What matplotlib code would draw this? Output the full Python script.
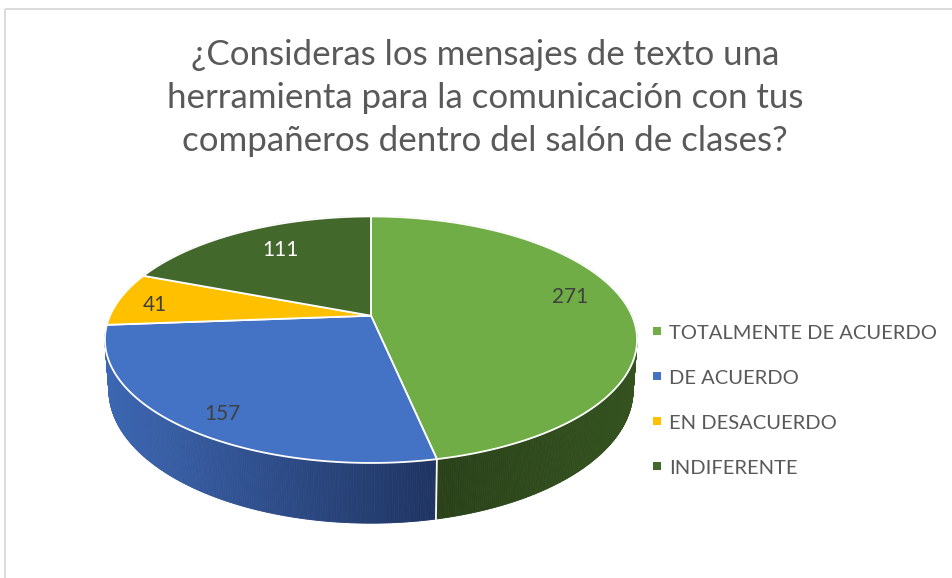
import numpy as np
import matplotlib
matplotlib.use("Agg")
import matplotlib.pyplot as plt
from matplotlib.patches import Polygon, Rectangle
from matplotlib.collections import PolyCollection
from matplotlib.colors import to_rgb

# ---- data -------------------------------------------------------------
title_lines = [
    "¿Consideras los mensajes de texto una",
    "herramienta para la comunicación con tus",
    "compañeros dentro del salón de clases?",
]
categories = ["TOTALMENTE DE ACUERDO", "DE ACUERDO", "EN DESACUERDO", "INDIFERENTE"]
values = [271, 157, 41, 111]

# ---- style ------------------------------------------------------------
top_colors = ["#70AD47", "#4472C4", "#FFC000", "#43682B"]
# wall shading: (left colour, right colour) across each slice's visible wall
wall_colors = [("#2A4119", "#34531F"), ("#3D67B3", "#1F3461"),
               ("#B88A00", "#8A6800"), ("#2E481E", "#243A17")]
label_colors = ["#404040", "#404040", "#404040", "#FFFFFF"]
label_radius = [0.78, 0.825, 0.856, 0.677]
label_nudge = [-9.5, 9.0, 3.5, -5.5]
FONT = "Lato"

W, H = 953, 578
fig = plt.figure(figsize=(W / 100, H / 100), dpi=100)
ax = fig.add_axes([0, 0, 1, 1])
ax.set_xlim(0, W)
ax.set_ylim(H, 0)
ax.axis("off")
renderer = fig.canvas.get_renderer()

# chart frame
ax.plot([5, W], [9, 9], color="#D9D9D9", lw=1.3, solid_capstyle="butt")
ax.plot([5, 5], [9, H], color="#D9D9D9", lw=1.3, solid_capstyle="butt")

# ---- 3D pie projection (pixel space) ----------------------------------
CX, CY = 371.0, 315.7   # projected pie centre
A, B = 261.0, 118.6     # horizontal / depth radii
K = 0.1946              # perspective strength
DEPTH = 48.5            # wall thickness
SHRINK = 0.985          # bottom face slightly smaller (farther away)


def top(theta, r=1.0):
    u, w = r * np.sin(theta), r * np.cos(theta)
    d = 1 + K * w
    return CX + A * u / d, CY - B * w / d


def bottom(theta):
    u, w = np.sin(theta), np.cos(theta)
    d = 1 + K * w
    return CX + SHRINK * A * u / d, CY - B * w / d + DEPTH / d


def mix(c0, c1, t):
    a, b = np.array(to_rgb(c0)), np.array(to_rgb(c1))
    return tuple(a + (b - a) * t)


total = sum(values)
edges = np.concatenate([[0], np.cumsum(values)]) / total * 2 * np.pi

# side walls, far quads first
quads, qcols, qdepth = [], [], []
for i in range(len(values)):
    t0, t1 = edges[i], edges[i + 1]
    n = max(int((t1 - t0) / (2 * np.pi) * 900), 4)
    ts = np.linspace(t0, t1, n + 1)
    vis = ts[np.cos(ts) < -K]
    if len(vis) > 1:
        s_vals = [(top(t)[0] - CX) / A for t in vis]
        s_lo, s_hi = min(s_vals), max(s_vals)
    else:
        s_lo, s_hi = -1.0, 1.0
    for a0, a1 in zip(ts[:-1], ts[1:]):
        p = [top(a0), top(a1), bottom(a1), bottom(a0)]
        s = (top(0.5 * (a0 + a1))[0] - CX) / A
        f = np.clip((s - s_lo) / (s_hi - s_lo + 1e-9), 0, 1)
        c0, c1 = wall_colors[i]
        col = mix(c0, c1, f)
        quads.append(p)
        qcols.append(col)
        qdepth.append(np.cos(0.5 * (a0 + a1)))

order = np.argsort(qdepth)[::-1]
pc = PolyCollection([quads[j] for j in order], facecolors=[qcols[j] for j in order],
                    edgecolors=[qcols[j] for j in order], linewidths=0.6)
ax.add_collection(pc)

# white seams where visible slices meet on the wall
for t in edges[1:-1]:
    if np.cos(t) < -K:
        x0, y0 = top(t)
        x1, y1 = bottom(t)
        ax.plot([x0, x1], [y0, y1], color="white", lw=1.3, zorder=3)

# top face
for i in range(len(values)):
    ts = np.linspace(edges[i], edges[i + 1], 200)
    pts = [(CX, CY)] + [top(t) for t in ts]
    ax.add_patch(Polygon(pts, closed=True, facecolor=top_colors[i],
                         edgecolor="white", lw=1.3, joinstyle="round", zorder=4))


def fit(txt, target):
    bb = txt.get_window_extent(renderer)
    txt.set_fontsize(txt.get_fontsize() * target / bb.width)


# data labels
for i, v in enumerate(values):
    mid = 0.5 * (edges[i] + edges[i + 1])
    x, y = top(mid, label_radius[i])
    t = ax.text(x, y + label_nudge[i], str(v), ha="center", va="center",
                color=label_colors[i], family=FONT, fontsize=14, zorder=6)
    if i == 0:
        fit(t, 36)
        lsize = t.get_fontsize()
    else:
        t.set_fontsize(lsize)

# title
baselines = [65, 108, 151]
tt = []
for line, yb in zip(title_lines, baselines):
    tt.append(ax.text(485, yb, line, ha="center", va="baseline",
                      color="#595959", family=FONT, fontsize=22))
fit(tt[1], 634)
for t in tt:
    t.set_fontsize(tt[1].get_fontsize())

# legend
leg_base = [339, 384, 429, 474]
lt = []
for cat, col, yb in zip(categories, top_colors, leg_base):
    ax.add_patch(Rectangle((653, yb - 12), 8, 8, facecolor=col, edgecolor="none"))
    lt.append(ax.text(669, yb, cat, ha="left", va="baseline",
                      color="#595959", family=FONT, fontsize=14))
fit(lt[0], 268)
for t in lt:
    t.set_fontsize(lt[0].get_fontsize())

fig.savefig("out.png", dpi=100)
